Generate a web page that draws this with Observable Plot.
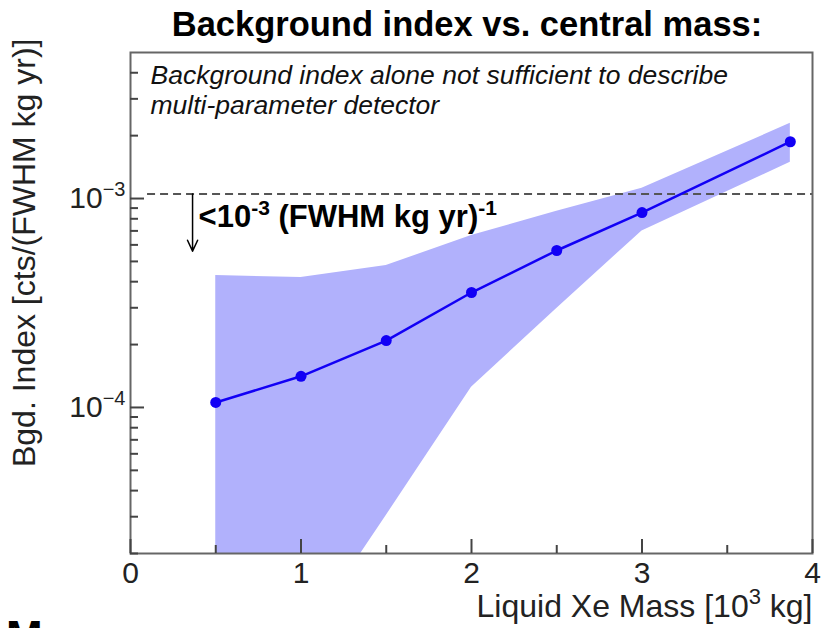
<!DOCTYPE html>
<html><head><meta charset="utf-8">
<script src="https://cdn.jsdelivr.net/npm/d3@7"></script>
<script src="https://cdn.jsdelivr.net/npm/@observablehq/plot@0.6"></script>
<style>
html,body{margin:0;padding:0;background:#fff;overflow:hidden;}
#wrap{position:relative;width:832px;height:628px;overflow:hidden;font-family:"Liberation Sans",Arial,Helvetica,sans-serif;}
#title{position:relative;height:38px;}
#title span{position:absolute;left:122px;width:690px;top:5px;text-align:center;font-size:34.5px;line-height:38px;font-weight:bold;color:#000;white-space:nowrap;}
#mass{position:absolute;left:6px;top:615px;font-size:44px;line-height:44px;font-weight:bold;color:#000;}
</style></head>
<body><div id="wrap">
<div id="title"><span>Background index vs. central mass:</span></div>
<div id="chart"></div>
<div id="mass">Mass</div>
</div>
<script>
// ---- data ----
const mass       = [0.5, 1, 1.5, 2, 2.5, 3, 3.87];            // 10^3 kg
const bgdIndex   = [1.057e-4, 1.41e-4, 2.09e-4, 3.55e-4, 5.64e-4, 8.57e-4, 1.87e-3];
const bandUpper  = [4.28e-4, 4.19e-4, 4.78e-4, 6.65e-4, 8.7e-4, 1.12e-3, 2.29e-3];
const bandLower  = [2e-6, 7.5e-6, 3.04e-5, 1.25e-4, 2.98e-4, 7.0e-4, 1.49e-3];
const xMajorTicks = [0, 1, 2, 3, 4];
const xMinorTicks = [0.5, 1.5, 2.5, 3.5];
const yMajorTicks = [1e-4, 1e-3];
const yMinorTicks = [2e-5,3e-5,4e-5,5e-5,6e-5,7e-5,8e-5,9e-5,2e-4,3e-4,4e-4,5e-4,6e-4,7e-4,8e-4,9e-4,2e-3,3e-3,4e-3];
const threshold = [1.05e-3];
const thresholdFrom = 0.1, thresholdTo = 4;
const arrowAt = [{x: 0.364, from: 1.05e-3, to: 5.6e-4}];
const arrowLabel = "<10^{-3} (FWHM kg yr)^{-1}";
const noteLines = ["Background index alone not sufficient to describe", "multi-parameter detector"];
const xLabel = "Liquid Xe Mass [10^{3} kg]";
const yLabel = "Bgd. Index [cts/(FWHM kg yr)]";

const rows = mass.map((m, i) => ({mass: m, idx: bgdIndex[i], hi: bandUpper[i], lo: bandLower[i]}));

const BLUE = "#1200f5", BAND = "#b1b1fc", AX = "#555", TICK = "#444";
const W = 832, H = 590, MT = 14, MB = 75, ML = 130, MR = 20;
const FW = W - ML - MR, FH = H - MT - MB;   // frame size in px
const MINOR = 8, MAJOR = 14;                // inward tick lengths in px (ROOT style)

const chart = Plot.plot({
  width: W, height: H,
  marginTop: MT, marginBottom: MB, marginLeft: ML, marginRight: MR,
  x: {domain: [0, 4]},
  y: {type: "log", domain: [2e-5, 5e-3]},
  style: {fontFamily: '"Liberation Sans", Arial, Helvetica, sans-serif', fontSize: "30px", color: "#222", background: "white"},
  marks: [
    Plot.areaY(rows, {x: "mass", y1: "lo", y2: "hi", fill: BAND, clip: true}),
    Plot.ruleY(threshold, {x1: thresholdFrom, x2: thresholdTo, stroke: AX, strokeWidth: 2, strokeDasharray: "8,5"}),
    Plot.arrow(arrowAt, {x: "x", y1: "from", y2: "to", stroke: "#000", strokeWidth: 1.5, headLength: 12, headAngle: 50}),
    Plot.text(arrowAt, {x: "x", y: "from", text: () => arrowLabel, dx: 6, dy: 33, textAnchor: "start", lineAnchor: "bottom", fontWeight: "bold", fontSize: 31, fill: "#000"}),
    Plot.text([noteLines.join("\n")], {frameAnchor: "top-left", textAnchor: "start", lineAnchor: "top", dx: 20, dy: 10, fontSize: 26.5, fontStyle: "italic", lineHeight: 1.13, fill: "#111"}),
    Plot.line(rows, {x: "mass", y: "idx", stroke: BLUE, strokeWidth: 2.5}),
    Plot.dot(rows, {x: "mass", y: "idx", r: 5.5, fill: BLUE}),
    Plot.frame({stroke: "#666", strokeWidth: 2}),
    // inward ticks (ROOT style)
    Plot.tickY(yMinorTicks, {y: d => d, insetRight: FW - MINOR, stroke: TICK, strokeWidth: 2}),
    Plot.tickY(yMajorTicks, {y: d => d, insetRight: FW - MAJOR, stroke: TICK, strokeWidth: 2}),
    Plot.tickX(xMinorTicks, {x: d => d, insetTop: FH - MINOR, stroke: TICK, strokeWidth: 2}),
    Plot.tickX(xMajorTicks, {x: d => d, insetTop: FH - MAJOR, stroke: TICK, strokeWidth: 2}),
    Plot.axisY(yMajorTicks, {tickSize: 0, tickPadding: 5, label: null, fontSize: 30,
      tickFormat: d => { const e = Math.round(Math.log10(d)); return "10^{" + (e < 0 ? "\u2212" + (-e) : e) + "}"; }}),
    Plot.axisX(xMajorTicks, {tickSize: 0, tickPadding: 8, label: null, fontSize: 30, tickFormat: d => String(d)}),
    Plot.text([xLabel], {frameAnchor: "bottom-right", textAnchor: "end", lineAnchor: "bottom", dy: 63, fontSize: 32, fill: "#222"}),
    Plot.text([yLabel], {frameAnchor: "top-left", rotate: -90, textAnchor: "end", lineAnchor: "bottom", dx: -96, dy: -14, fontSize: 32, fill: "#222"})
  ]
});
document.getElementById("chart").appendChild(chart);

// render ^{...} as real superscript tspans
function supify(root) {
  root.querySelectorAll("text").forEach(t => {
    const s = t.textContent;
    if (!s.includes("^{") || t.querySelector("tspan")) return;
    const fs = parseFloat(getComputedStyle(t).fontSize) || 30;
    const shift = Math.round(fs * 0.4);
    t.textContent = "";
    const parts = s.split(/(\^\{[^}]*\})/).filter(p => p.length);
    let raised = false;
    parts.forEach(p => {
      const ts = document.createElementNS("http://www.w3.org/2000/svg", "tspan");
      if (p.startsWith("^{")) {
        ts.textContent = p.slice(2, -1);
        ts.setAttribute("font-size", Math.round(fs * 0.68));
        ts.setAttribute("dy", -shift);
        raised = true;
      } else {
        ts.textContent = p;
        if (raised) { ts.setAttribute("dy", shift); raised = false; }
      }
      t.appendChild(ts);
    });
  });
}
supify(chart);
</script>
</body></html>
